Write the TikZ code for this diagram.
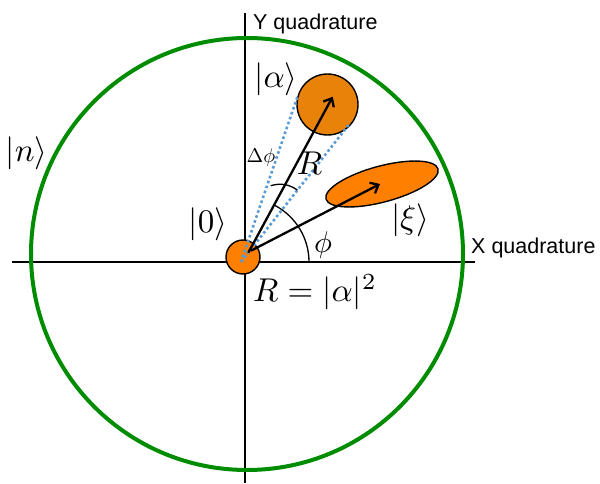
\documentclass[tikz,border=0pt]{standalone}
\usepackage{graphicx}
\usepackage{fontspec}
\newfontfamily\axisfont{Liberation Sans}
\usetikzlibrary{arrows.meta,shapes.geometric}
\definecolor{ringgreen}{RGB}{0,140,0}
\definecolor{dotblue}{RGB}{91,155,213}
\definecolor{orangeA}{RGB}{233,130,8}
\definecolor{orangeB}{RGB}{255,128,0}
\newcommand{\mlab}[2]{\scalebox{#1}{$#2$}}
\begin{document}
\begin{tikzpicture}[x=1pt,y=1pt,
  lbl/.style={inner sep=0pt},
  axlbl/.style={inner sep=0pt, anchor=base west, font=\axisfont\fontsize{21.5}{26}\selectfont},
  blob/.style={draw=black, line width=1.4pt},
  vec/.style={line width=2.3pt, -{Straight Barb[length=7pt,width=12pt]}},
  tang/.style={dotblue, line width=2.6pt, dash pattern=on 2.6pt off 2.6pt},
  ax/.style={line width=1.2pt},
  thinarc/.style={line width=1.3pt}]
\useasboundingbox (0,0) rectangle (600,483);
\coordinate (xl) at (12,221); \coordinate (xr) at (475,221);
\coordinate (yb) at (245,0); \coordinate (yt) at (245,470);
\draw[ax] (xl) -- (xr);
\draw[ax] (yb) -- (yt);
\node[circle, draw=ringgreen, line width=4pt, minimum size=432pt, inner sep=0pt] (ring) at (247,229) {};
\node[circle, blob, fill=orangeB, minimum size=34pt, inner sep=0pt] (o) at (243,226) {};
\node[circle, blob, fill=orangeA, minimum size=61pt, inner sep=0pt] (a) at (327.5,378.5) {};
\node[ellipse, blob, fill=orangeB, minimum width=116pt, minimum height=36pt, inner sep=0pt, rotate=15] (xi) at (382,299) {};
% tangent lines
\coordinate (t0) at (241,221);
\coordinate (t1) at (297.5,386.5);
\coordinate (t2) at (349,358.5);
\draw[tang] (t0) -- (t1);
\draw[tang] (t0) -- (t2);
% vectors
\coordinate (r0) at (248.3,230.3); \coordinate (r1) at (332.7,386.3);
\coordinate (x0) at (251,232.3); \coordinate (x1) at (380,299);
\draw[vec] (r0) -- (r1);
\draw[vec] (x0) -- (x1);
% angle arcs
\coordinate (phistart) at (309,221);
\draw[thinarc] (phistart) arc[start angle=0,end angle=62,radius=64];
\coordinate (d1) at (270.7,297.3); \coordinate (d2) at (297.3,293);
\draw[thinarc] (d1) to[bend left=25] (d2);
% labels
\node[lbl] (keta) at (276,404) {\mlab{3.3}{|\alpha\rangle}};
\node[lbl] (ketz) at (208,258.3) {\mlab{3.3}{|0\rangle}};
\node[lbl] (ketxi) at (410,262.5) {\mlab{3.3}{|\xi\rangle}};
\node[lbl] (ketn) at (26.7,329.5) {\mlab{3.3}{|n\rangle}};
\node[lbl] (phi) at (323,238.5) {\mlab{3.0}{\phi}};
\node[lbl] (R) at (309.5,319.5) {\mlab{3.3}{R}};
\node[lbl] (dphi) at (261,325) {\mlab{2.0}{\Delta\phi}};
\node[lbl, anchor=base west] (Req) at (253,181.3) {\mlab{3.3}{R=|\alpha|^2}};
\node[axlbl] (ylab) at (253,453) {Y quadrature};
\node[axlbl] (xlab) at (471,230) {X quadrature};
\end{tikzpicture}
\end{document}
